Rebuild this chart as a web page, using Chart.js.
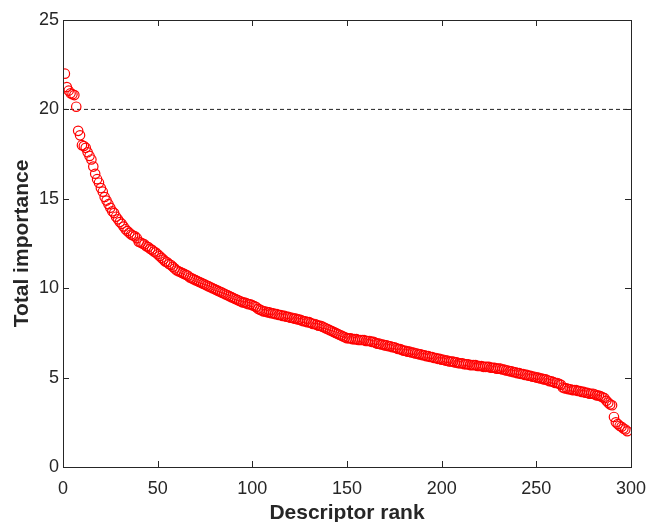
<!DOCTYPE html>
<html>
<head>
<meta charset="utf-8">
<script src="https://cdn.jsdelivr.net/npm/chart.js@4"></script>
<style>
  html, body { margin: 0; padding: 0; background: #fff; }
  #wrap { width: 647px; height: 522px; }
</style>
</head>
<body>
<div id="wrap"><canvas id="chart" width="647" height="522"></canvas></div>
<script>
// Total importance per descriptor, sorted by rank
const importance = [
  22.0, 21.25, 21.05, 20.9, 20.85, 20.8, 20.15, 18.8, 18.55, 18.0,
  17.95, 17.85, 17.6, 17.4, 17.2, 16.8, 16.4, 16.1, 15.9, 15.6,
  15.4, 15.1, 14.9, 14.7, 14.5, 14.3, 14.2, 14.0, 13.85, 13.7,
  13.6, 13.45, 13.3, 13.2, 13.1, 13.0, 12.95, 12.9, 12.8, 12.6,
  12.55, 12.5, 12.45, 12.35, 12.3, 12.2, 12.15, 12.05, 12.0, 11.9,
  11.8, 11.7, 11.6, 11.5, 11.45, 11.35, 11.3, 11.2, 11.1, 11.0,
  10.95, 10.9, 10.85, 10.8, 10.75, 10.7, 10.6, 10.55, 10.5, 10.45,
  10.4, 10.35, 10.3, 10.25, 10.2, 10.15, 10.1, 10.05, 10.0, 9.95,
  9.9, 9.85, 9.8, 9.75, 9.7, 9.65, 9.6, 9.55, 9.5, 9.45,
  9.4, 9.35, 9.3, 9.25, 9.2, 9.2, 9.15, 9.1, 9.1, 9.05,
  9.0, 8.95, 8.85, 8.8, 8.75, 8.7, 8.7, 8.65, 8.65, 8.6,
  8.6, 8.55, 8.55, 8.5, 8.5, 8.45, 8.45, 8.4, 8.4, 8.35,
  8.35, 8.3, 8.3, 8.25, 8.25, 8.2, 8.15, 8.15, 8.1, 8.1,
  8.05, 8.0, 8.0, 7.95, 7.9, 7.9, 7.85, 7.8, 7.75, 7.7,
  7.65, 7.6, 7.55, 7.5, 7.45, 7.4, 7.35, 7.3, 7.25, 7.2,
  7.2, 7.2, 7.15, 7.15, 7.15, 7.1, 7.1, 7.1, 7.1, 7.05,
  7.05, 7.05, 7.0, 7.0, 6.95, 6.9, 6.9, 6.85, 6.85, 6.8,
  6.8, 6.75, 6.75, 6.7, 6.7, 6.65, 6.6, 6.6, 6.55, 6.5,
  6.5, 6.45, 6.45, 6.4, 6.4, 6.35, 6.35, 6.3, 6.3, 6.25,
  6.25, 6.2, 6.2, 6.15, 6.15, 6.1, 6.1, 6.05, 6.05, 6.0,
  6.0, 5.95, 5.95, 5.9, 5.9, 5.9, 5.85, 5.85, 5.8, 5.8,
  5.8, 5.75, 5.75, 5.75, 5.7, 5.7, 5.7, 5.7, 5.65, 5.65,
  5.65, 5.6, 5.6, 5.6, 5.6, 5.55, 5.55, 5.55, 5.5, 5.5,
  5.5, 5.45, 5.45, 5.4, 5.4, 5.35, 5.35, 5.3, 5.3, 5.25,
  5.25, 5.2, 5.2, 5.15, 5.15, 5.1, 5.1, 5.05, 5.05, 5.0,
  5.0, 4.95, 4.95, 4.9, 4.9, 4.85, 4.8, 4.8, 4.75, 4.7,
  4.7, 4.65, 4.6, 4.45, 4.4, 4.4, 4.35, 4.35, 4.3, 4.3,
  4.3, 4.25, 4.25, 4.2, 4.2, 4.15, 4.15, 4.1, 4.1, 4.1,
  4.05, 4.0, 4.0, 3.95, 3.9, 3.85, 3.7, 3.6, 3.5, 3.45,
  2.8, 2.5, 2.4, 2.3, 2.25, 2.15, 2.1, 2.0
];
const ranks = importance.map((_, i) => i + 1);
const threshold = 20;
const xRange = [0, 300];
const yRange = [0, 25];

const axisColor = "#262626";
const fontFamily = "'Liberation Sans', Arial, Helvetica, sans-serif";

// MATLAB-like box: inward ticks on all four sides plus top/right frame
const boxPlugin = {
  id: "box",
  afterDatasetsDraw(chart) {
    const { ctx, chartArea: a, scales } = chart;
    const len = 6;
    ctx.save();
    ctx.strokeStyle = axisColor;
    ctx.lineWidth = 1;
    ctx.beginPath();
    scales.x.ticks.forEach((t) => {
      const px = Math.round(scales.x.getPixelForValue(t.value)) + 0.5;
      ctx.moveTo(px, a.bottom);
      ctx.lineTo(px, a.bottom - len);
      ctx.moveTo(px, a.top);
      ctx.lineTo(px, a.top + len);
    });
    scales.y.ticks.forEach((t) => {
      const py = Math.round(scales.y.getPixelForValue(t.value)) + 0.5;
      ctx.moveTo(a.left, py);
      ctx.lineTo(a.left + len, py);
      ctx.moveTo(a.right, py);
      ctx.lineTo(a.right - len, py);
    });
    ctx.stroke();
    ctx.strokeRect(Math.round(a.left) + 0.5, Math.round(a.top) + 0.5,
      Math.round(a.right - a.left), Math.round(a.bottom - a.top));
    ctx.restore();
  },
};

const ctx = document.getElementById("chart").getContext("2d");
new Chart(ctx, {
  type: "scatter",
  data: {
    datasets: [
      {
        label: "Total importance",
        data: ranks.map((r, i) => ({ x: r, y: importance[i] })),
        pointStyle: "circle",
        pointRadius: 4.7,
        pointBorderWidth: 1.2,
        borderColor: "#ff0000",
        backgroundColor: "rgba(0,0,0,0)",
        pointHoverRadius: 4.7,
      },
      {
        type: "line",
        label: "Threshold",
        data: [
          { x: xRange[0], y: threshold },
          { x: xRange[1], y: threshold },
        ],
        borderColor: "#222",
        borderWidth: 1,
        borderDash: [4, 3],
        pointRadius: 0,
        fill: false,
      },
    ],
  },
  options: {
    responsive: false,
    animation: false,
    layout: { padding: { top: 20, right: 16, left: 0, bottom: 0 } },
    plugins: {
      legend: { display: false },
      tooltip: { enabled: false },
    },
    scales: {
      x: {
        type: "linear",
        min: xRange[0],
        max: xRange[1],
        grid: { display: false, drawTicks: false },
        border: { display: false },
        ticks: {
          stepSize: 50,
          padding: 11,
          color: axisColor,
          font: { family: fontFamily, size: 18 },
          maxRotation: 0,
        },
        title: {
          display: true,
          text: "Descriptor rank",
          color: axisColor,
          font: { family: fontFamily, size: 21, weight: "bold", lineHeight: 1 },
          padding: { top: 0, bottom: -2 },
        },
        afterFit(scale) {
          scale.height = 55;
          // let the end labels overhang instead of shrinking the plot
          scale.paddingLeft = 0;
          scale.paddingRight = 0;
        },
      },
      y: {
        type: "linear",
        min: yRange[0],
        max: yRange[1],
        grid: { display: false, drawTicks: false },
        border: { display: false },
        ticks: {
          stepSize: 5,
          padding: 4,
          color: axisColor,
          font: { family: fontFamily, size: 18 },
        },
        title: {
          display: true,
          text: "Total importance",
          color: axisColor,
          font: { family: fontFamily, size: 21, weight: "bold", lineHeight: 1 },
          padding: { top: 12, bottom: 0 },
        },
        afterFit(scale) {
          scale.width = 63;
        },
      },
    },
  },
  plugins: [boxPlugin],
});
</script>
</body>
</html>
